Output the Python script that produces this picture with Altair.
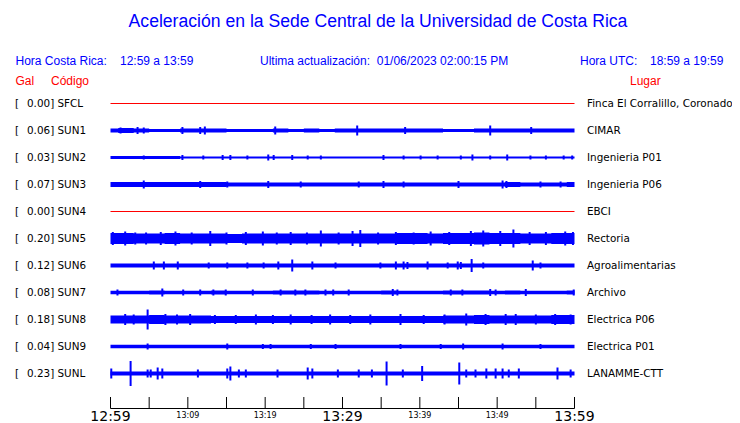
import altair as alt
import pandas as pd

# ---------------- data ----------------
codes = ["SFCL", "SUN1", "SUN2", "SUN3", "SUN4", "SUN5", "SUN6", "SUN7", "SUN8", "SUN9", "SUNL"]
gal = [0.00, 0.06, 0.03, 0.07, 0.00, 0.20, 0.12, 0.08, 0.18, 0.04, 0.23]
places = ["Finca El Corralillo, Coronado", "CIMAR", "Ingenieria P01", "Ingenieria P06", "EBCI",
          "Rectoria", "Agroalimentarias", "Archivo", "Electrica P06", "Electrica P01", "LANAMME-CTT"]

# envelope half-width of each trace, sampled every 2 minutes (0..60)
env_minutes = list(range(0, 61, 2))
env_sun1 = [2, 2.5, 2, 1.5, 1.5, 2, 2, 2, 1.5, 1.5, 1.5, 2, 1.5, 2, 1.5, 2, 2, 2, 2, 2, 2, 2, 1.5, 1.5, 2, 2, 2, 2, 2, 2, 2]
env_sun2 = [1.5, 1.5, 1.5, 1.5, 1.5, 1, 1, 1, 1, 1, 1, 1, 1, 1, 1, 1, 1, 1, 1, 1, 1, 1, 1, 1, 1, 1, 1, 1, 1, 1, 1]
env_sun3 = [2.5, 2.5, 2.5, 2.5, 2.5, 2.5, 2.5, 2.5, 2, 2, 2, 2, 2, 2, 2, 2, 2, 2, 2, 2, 2, 2, 2, 2, 2, 2, 2.5, 2, 2, 2, 2.5]
env_sun5 = [5.5, 5.5, 5, 5, 5.5, 5, 5, 5, 4.5, 5, 5, 5, 5, 5, 5, 5, 5, 5, 5, 5.5, 5.5, 5, 5.5, 5.5, 6, 5.5, 5.5, 5, 5, 5.5, 5.5]
env_sun6 = [2, 2, 2, 2, 2, 2, 2, 2, 2, 2, 2, 2, 2, 2, 2, 2, 2, 2, 2, 2, 2, 2, 2, 2, 2, 2, 2, 2, 2, 2, 2]
env_sun7 = [1.7, 1.7, 1.7, 2, 1.7, 1.7, 1.7, 2, 1.7, 1.7, 1.7, 2, 2, 2, 1.7, 1.7, 1.7, 1.7, 2, 1.7, 1.7, 1.7, 2, 2, 2, 1.7, 2, 1.7, 1.7, 1.7, 2]
env_sun8 = [4, 4, 4, 4.5, 4, 4, 4, 3.5, 3.5, 3.5, 3.5, 3.5, 3.5, 3.5, 3.5, 3.5, 3.5, 3.5, 3.5, 3.5, 3.5, 3.5, 4, 4, 4.5, 4, 4, 4, 4, 4.5, 4.5]
env_sun9 = [1.7, 1.7, 1.7, 1.7, 1.7, 1.7, 1.7, 1.7, 1.7, 1.7, 1.7, 1.7, 1.7, 1.7, 1.7, 1.7, 1.7, 1.7, 1.7, 1.7, 1.7, 1.7, 1.7, 1.7, 1.7, 1.7, 1.7, 1.7, 1.7, 1.7, 1.7]
env_sunl = [2, 2, 2, 2, 2, 2, 2, 2, 2, 2, 2, 2, 2, 2, 2, 2, 2, 2, 2, 2, 2, 2, 2, 2, 2, 2, 2, 2, 2, 2, 2]

# bursts / spikes: (minute, half-amplitude)
spk_sun1 = [(1.3, 3), (3.5, 3.5), (4.3, 3), (9.3, 3.5), (11.6, 3.5), (12.2, 4), (21.3, 4), (31.9, 5), (38.1, 3.5), (49.1, 5), (54.4, 3.5)]
spk_sun2 = [(4.3, 2), (9.3, 2.5), (12.0, 2), (14.5, 2.5), (15.5, 2.5), (17.7, 2), (20.4, 3), (21.1, 2.5), (23.5, 2.5), (25.5, 2), (27.2, 2),
            (35.3, 2.5), (37.9, 2), (40.1, 2), (42.3, 2), (45.3, 2), (46.8, 3), (49.1, 2), (51.3, 3), (54.3, 2), (56.3, 2), (58.6, 2), (59.7, 2)]
spk_sun3 = [(4.3, 4), (11.6, 3.5), (15.1, 3), (20.4, 3.5), (24.6, 3), (32.1, 3), (35.3, 3.5), (37.9, 3), (45.0, 3.5), (50.7, 4), (51.2, 3.5), (55.6, 3), (58.2, 3)]
spk_sun5 = [(0.3, 6.5), (1.9, 7), (3.2, 6), (4.6, 6), (6.5, 6.5), (8.4, 7), (10.5, 6), (12.9, 7.5), (15.0, 6), (17.5, 6.5), (19.7, 7),
            (21.5, 6), (23.3, 6.5), (25.4, 6), (27.2, 8), (29.5, 6), (31.3, 7.5), (32.3, 8.5), (34.6, 6), (36.9, 6.5), (39.2, 6),
            (41.4, 7), (43.8, 6.5), (46.6, 7.5), (48.2, 8), (50.4, 7.5), (52.1, 9), (54.2, 6.5), (56.3, 6.5), (58.8, 7), (59.8, 6.5)]
spk_sun6 = [(5.6, 4), (6.9, 4), (8.7, 4), (12.7, 3), (15.1, 3), (17.7, 3), (19.8, 3), (21.7, 4), (23.5, 6), (26.1, 4), (29.1, 3), (34.9, 3),
            (36.9, 4), (37.9, 4), (38.4, 3.5), (41.0, 4), (43.6, 3), (44.9, 4), (45.3, 3.5), (46.7, 6.5), (48.2, 3), (54.6, 5), (55.6, 3)]
spk_sun7 = [(0.9, 3), (6.7, 4), (9.4, 3), (11.6, 3), (13.3, 3), (14.9, 3), (18.4, 3), (22.0, 3), (23.9, 3), (25.2, 3), (27.8, 3), (28.8, 3),
            (30.8, 3), (36.5, 3.5), (37.1, 3), (44.0, 3), (45.5, 3), (49.1, 3.5), (49.8, 3), (53.7, 3.5), (59.9, 3)]
spk_sun8 = [(1.9, 5.5), (3.0, 5), (4.8, 10), (7.1, 5.5), (8.6, 5), (10.3, 5.5), (13.5, 4.5), (16.2, 4.5), (18.8, 5), (21.0, 4.5),
            (23.3, 5), (26.0, 4.5), (28.4, 5), (31.0, 4.5), (33.6, 5), (37.5, 5.5), (40.5, 4.5), (43.2, 5), (46.0, 6), (48.5, 5.5),
            (51.1, 5.5), (52.4, 5.5), (55.0, 5), (57.5, 5.5), (59.5, 5)]
spk_sun9 = [(4.8, 3), (15.1, 3), (19.7, 2.5), (20.7, 2.5), (25.9, 2.5), (29.1, 2.5), (37.5, 2.5), (42.7, 2.5), (45.6, 3), (50.7, 3), (55.6, 2.5)]
spk_sunl = [(0.1, 5), (2.6, 12.5), (4.8, 4), (5.2, 4), (6.1, 6), (6.7, 5), (11.3, 4), (15.1, 5), (15.5, 7), (16.6, 4), (17.5, 4), (21.6, 4),
            (25.5, 6), (26.1, 5), (29.4, 4), (32.1, 4), (33.8, 4), (35.7, 12), (37.8, 4), (40.3, 7.5), (45.1, 11), (46.0, 4), (47.2, 4),
            (48.6, 5), (49.8, 5), (50.7, 5), (51.5, 4), (52.8, 5), (57.8, 6), (59.5, 4)]

tick_minutes = list(range(0, 61, 5))
label_minutes = [0, 10, 20, 30, 40, 50, 60]
label_texts = ["12:59", "13:09", "13:19", "13:29", "13:39", "13:49", "13:59"]
label_big = [True, False, False, True, False, False, True]

NB = "\u00a0"
title_text = "Aceleración en la Sede Central de la Universidad de Costa Rica"
update_text = "Ultima actualización:" + NB + NB + "01/06/2023 02:00:15 PM"

envelopes = {"SUN1": env_sun1, "SUN2": env_sun2, "SUN3": env_sun3, "SUN5": env_sun5, "SUN6": env_sun6,
             "SUN7": env_sun7, "SUN8": env_sun8, "SUN9": env_sun9, "SUNL": env_sunl}
spikes = {"SUN1": spk_sun1, "SUN2": spk_sun2, "SUN3": spk_sun3, "SUN5": spk_sun5, "SUN6": spk_sun6,
          "SUN7": spk_sun7, "SUN8": spk_sun8, "SUN9": spk_sun9, "SUNL": spk_sunl}

# ---------------- build tables ----------------
ROW0, ROWSTEP = 95.5, 27
row_y = {c: ROW0 + ROWSTEP * i for i, c in enumerate(codes)}

env_rows = []
for c, vals in envelopes.items():
    for m, a in zip(env_minutes, vals):
        env_rows.append({"code": c, "minute": m, "lo": row_y[c] - a, "hi": row_y[c] + a})
env_df = pd.DataFrame(env_rows)

spk_rows = []
for c, lst in spikes.items():
    for m, a in lst:
        spk_rows.append({"code": c, "minute": m, "lo": row_y[c] - a, "hi": row_y[c] + a})
spk_df = pd.DataFrame(spk_rows)

flat_df = pd.DataFrame([{"code": c, "y": row_y[c], "x0": 0, "x1": 60} for c, g in zip(codes, gal) if g == 0.0])

st_df = pd.DataFrame({
    "code": codes,
    "y": [row_y[c] for c in codes],
    "left": ["%.2f] %s" % (g, c) for g, c in zip(gal, codes)],
    "place": places,
})

tick_df = pd.DataFrame({"minute": tick_minutes})
lab_df = pd.DataFrame({"minute": label_minutes, "text": label_texts, "big": label_big})
axis_df = pd.DataFrame({"x0": [0], "x1": [60]})

W, H = 724, 415
xs = alt.Scale(domain=[0, 60], range=[102.5, 566.5], nice=False, zero=False)
ys = alt.Scale(domain=[0, H], range=[0, H], nice=False, zero=False)

BLUE = "#0000ff"
RED = "#ff0000"


def X(f):
    return alt.X(f, type="quantitative", scale=xs, axis=None)


def Y(f):
    return alt.Y(f, type="quantitative", scale=ys, axis=None)


bands = alt.Chart(env_df).mark_area(color=BLUE, interpolate="step", opacity=1).encode(
    x=X("minute"), y=Y("lo"), y2="hi", detail="code:N")

spk = alt.Chart(spk_df).mark_rule(color=BLUE, strokeWidth=2).encode(
    x=X("minute"), y=Y("lo"), y2="hi")

flat = alt.Chart(flat_df).mark_rule(color=RED, strokeWidth=1).encode(
    x=X("x0"), x2="x1", y=Y("y"))

TXT = dict(baseline="middle", font="DejaVu Sans", fontSize=10.4, color="black")
bracket = alt.Chart(st_df).mark_text(align="left", **TXT).encode(
    x=alt.value(7), y=Y("y"), text=alt.value("["))
left_lab = alt.Chart(st_df).mark_text(align="left", **TXT).encode(
    x=alt.value(19), y=Y("y"), text="left:N")
right_lab = alt.Chart(st_df).mark_text(align="left", **TXT).encode(
    x=alt.value(579), y=Y("y"), text="place:N")

axis_line = alt.Chart(axis_df).mark_rule(color="black", strokeWidth=1).encode(
    x=X("x0"), x2="x1", y=alt.value(400.5))
ticks = alt.Chart(tick_df).mark_rule(color="black", strokeWidth=1).encode(
    x=X("minute"), y=alt.value(389), y2=alt.value(400.5))
big_lab = alt.Chart(lab_df).transform_filter("datum.big").mark_text(
    align="center", baseline="alphabetic", font="DejaVu Sans", fontSize=14, color="black").encode(
    x=X("minute"), y=alt.value(413), text="text:N")
small_lab = alt.Chart(lab_df).transform_filter("!datum.big").mark_text(
    align="center", baseline="alphabetic", font="DejaVu Sans", fontSize=8, color="black").encode(
    x=X("minute"), y=alt.value(410), text="text:N")

hdr_df = pd.DataFrame({
    "text": [title_text, "Hora Costa Rica:", "12:59 a 13:59", update_text,
             "Hora UTC:", "18:59 a 19:59", "Gal", "Código", "Lugar"],
    "px": [370, 7.5, 112, 252, 572, 642, 7.5, 43, 622],
    "py": [14, 53, 53, 53, 53, 53, 73, 73, 73],
    "size": [17.6, 12, 12, 12, 12, 12, 12, 12, 12],
    "col": ["b", "b", "b", "b", "b", "b", "r", "r", "r"],
})

title = alt.Chart(hdr_df).transform_filter("datum.size > 15").mark_text(
    align="center", baseline="middle", font="Liberation Sans", fontSize=17.6, color=BLUE).encode(
    x=alt.X("px:Q", scale=None), y=alt.Y("py:Q", scale=None), text="text:N")
hdr_blue = alt.Chart(hdr_df).transform_filter("datum.size == 12 && datum.col == 'b'").mark_text(
    align="left", baseline="middle", font="Liberation Sans", fontSize=12, color=BLUE).encode(
    x=alt.X("px:Q", scale=None), y=alt.Y("py:Q", scale=None), text="text:N")
hdr_red = alt.Chart(hdr_df).transform_filter("datum.col == 'r'").mark_text(
    align="left", baseline="middle", font="Liberation Sans", fontSize=12, color=RED).encode(
    x=alt.X("px:Q", scale=None), y=alt.Y("py:Q", scale=None), text="text:N")

chart = alt.layer(
    bands, spk, flat, bracket, left_lab, right_lab, axis_line, ticks, big_lab, small_lab, title, hdr_blue, hdr_red
).properties(
    width=W, height=H, autosize=alt.AutoSizeParams(type="none"), padding=0
).configure_view(stroke=None).resolve_scale(x="independent", y="independent")

chart.save("out.html", embed_options={"renderer": "svg", "actions": False})
